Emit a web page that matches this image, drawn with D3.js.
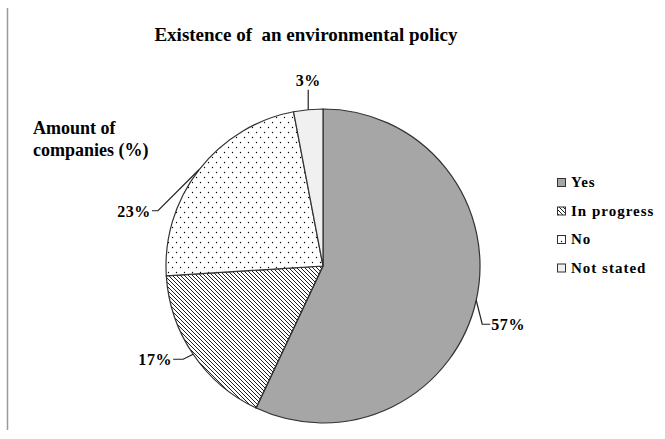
<!DOCTYPE html>
<html>
<head>
<meta charset="utf-8">
<script src="https://cdn.jsdelivr.net/npm/d3@7"></script>
<style>
  body { margin: 0; background: #fff; }
  svg { display: block; font-family: 'Liberation Serif', 'Times New Roman', serif; font-weight: bold; }
</style>
</head>
<body>
<div id="chart"></div>
<script>
// Data
const categories = ['Yes', 'In progress', 'No', 'Not stated']
const values = [57, 17, 23, 3]
const labels = ['57%', '17%', '23%', '3%']

// Initialization
const width = 665
const height = 439
const cx = 323
const cy = 266
const radius = 157

const svg = d3.select('#chart').append('svg')
  .attr('width', width)
  .attr('height', height)

// Patterns
const defs = svg.append('defs')
defs.append('pattern')
  .attr('id', 'hatch')
  .attr('patternUnits', 'userSpaceOnUse')
  .attr('width', 4)
  .attr('height', 4)
  .append('path')
  .attr('d', 'M-1,-1 L5,5 M-1,3 L1,5 M3,-1 L5,1')
  .attr('stroke', '#222')
  .attr('stroke-width', 1)

const dots = defs.append('pattern')
  .attr('id', 'dots')
  .attr('patternUnits', 'userSpaceOnUse')
  .attr('width', 8)
  .attr('height', 10)
dots.append('rect').attr('width', 8).attr('height', 10).attr('fill', '#fff')
dots.selectAll('circle')
  .data([[1.5, 1.5], [5.5, 6.5]])
  .enter()
  .append('circle')
  .attr('cx', d => d[0])
  .attr('cy', d => d[1])
  .attr('r', 0.7)
  .attr('fill', '#000')

const FILLS = ['#a6a6a6', 'url(#hatch)', 'url(#dots)', '#f0f0f0']

// Left frame line
svg.append('line')
  .attr('x1', 7.5).attr('x2', 7.5)
  .attr('y1', 8).attr('y2', 430)
  .attr('stroke', '#9a9a9a')
  .attr('stroke-width', 1.5)

// Title
svg.append('text')
  .attr('x', 306)
  .attr('y', 41)
  .attr('text-anchor', 'middle')
  .style('font-size', '19px')
  .style('white-space', 'pre')
  .text('Existence of  an environmental policy')

// Axis-like caption
const caption = svg.append('text')
  .attr('x', 33)
  .attr('y', 134)
  .style('font-size', '18px')
caption.append('tspan').attr('x', 33).text('Amount of')
caption.append('tspan').attr('x', 33).attr('dy', 22).text('companies (%)')

// Pie
const pie = d3.pie().sort(null).value(d => d)
const arcs = pie(values)
const arc = d3.arc().innerRadius(0).outerRadius(radius)

const g = svg.append('g').attr('transform', `translate(${cx},${cy})`)

g.selectAll('path.slice')
  .data(arcs)
  .enter()
  .append('path')
  .attr('class', 'slice')
  .attr('d', arc)
  .attr('fill', (_, i) => FILLS[i])
  .attr('stroke', '#333')
  .attr('stroke-width', 1.2)

// Leader lines and labels
const edge = d => {
  const a = (d.startAngle + d.endAngle) / 2
  return [Math.sin(a) * radius, -Math.cos(a) * radius]
}
// bend offsets from edge point, horizontal tail length
const bends = [[6, 24, 8], [-10, 5, -10], [-41, 41, -6], [0, -20, 0]]

g.selectAll('path.leader')
  .data(arcs)
  .enter()
  .append('path')
  .attr('class', 'leader')
  .attr('fill', 'none')
  .attr('stroke', '#222')
  .attr('stroke-width', 1.2)
  .attr('d', (d, i) => {
    const [x, y] = edge(d)
    const [bx, by, tail] = bends[i]
    return d3.line()([[x, y], [x + bx, y + by], [x + bx + tail, y + by]])
  })

g.selectAll('text.label')
  .data(arcs)
  .enter()
  .append('text')
  .attr('class', 'label')
  .style('font-size', '16px')
  .style('letter-spacing', '0.6px')
  .attr('text-anchor', (_, i) => bends[i][2] > 0 ? 'start' : (bends[i][2] < 0 ? 'end' : 'middle'))
  .attr('x', (d, i) => {
    const [x] = edge(d)
    const [bx, , tail] = bends[i]
    return x + bx + tail + (tail > 0 ? 1 : tail < 0 ? -1 : 0)
  })
  .attr('y', (d, i) => {
    const [, y] = edge(d)
    const by = bends[i][1]
    return y + by + (bends[i][2] === 0 ? -4 : 6)
  })
  .text((_, i) => labels[i])

// Legend
const legend = svg.append('g')
const rowGap = 28.5
legend.selectAll('rect')
  .data(categories)
  .enter()
  .append('rect')
  .attr('x', 557.5)
  .attr('y', (_, i) => 178.5 + i * rowGap)
  .attr('width', 8)
  .attr('height', 8)
  .attr('fill', (_, i) => FILLS[i])
  .attr('stroke', '#333')
  .attr('stroke-width', 1)

legend.selectAll('text')
  .data(categories)
  .enter()
  .append('text')
  .attr('x', 571)
  .attr('y', (_, i) => 187 + i * rowGap)
  .style('font-size', '15px')
  .style('letter-spacing', '1px')
  .text(d => d)
</script>
</body>
</html>
